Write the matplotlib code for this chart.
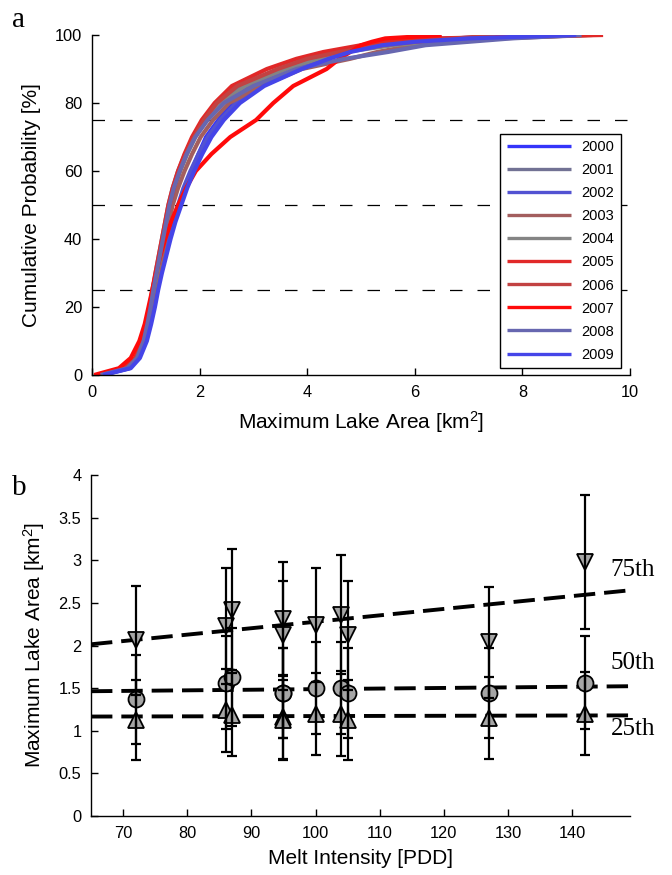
import numpy as np
import matplotlib
matplotlib.use('Agg')
import matplotlib.pyplot as plt
from matplotlib.ticker import FormatStrFormatter

plt.rcParams['font.family'] = ['Liberation Sans', 'DejaVu Sans']
plt.rcParams['mathtext.default'] = 'regular'

# ---- panel a: cumulative distributions of maximum lake area ----
prob = [0, 2, 5, 10, 15, 20, 25, 30, 35, 40, 45, 50, 55, 60, 65, 70, 75,
        80, 85, 90, 93, 95, 97, 98, 99, 100]

years = ['2000', '2001', '2002', '2003', '2004', '2005', '2006', '2007', '2008', '2009']
year_colors = ['#3434fa', '#727294', '#5252d2', '#a35e5e', '#848484',
               '#e12828', '#c24242', '#ff0a0a', '#6767b0', '#4545e8']

area_2000 = [0.20, 0.70, 0.87, 1.00, 1.08, 1.15, 1.21, 1.28, 1.36, 1.44, 1.53, 1.62, 1.72, 1.85,
             1.98, 2.12, 2.35, 2.60, 2.88, 3.60, 4.10, 4.50, 5.10, 5.60, 6.60, 9.10]
area_2001 = [0.15, 0.64, 0.83, 0.95, 1.02, 1.08, 1.13, 1.18, 1.24, 1.30, 1.36, 1.42, 1.50, 1.60,
             1.73, 1.88, 2.08, 2.35, 2.75, 3.50, 4.10, 4.60, 5.40, 6.00, 7.20, 8.80]
area_2002 = [0.18, 0.68, 0.86, 0.99, 1.07, 1.13, 1.19, 1.26, 1.33, 1.41, 1.50, 1.60, 1.70, 1.83,
             1.98, 2.15, 2.38, 2.68, 3.10, 3.80, 4.30, 4.70, 5.30, 6.00, 7.00, 8.60]
area_2003 = [0.16, 0.66, 0.85, 0.97, 1.05, 1.11, 1.17, 1.23, 1.30, 1.36, 1.43, 1.50, 1.60, 1.72,
             1.86, 2.02, 2.25, 2.55, 3.15, 3.90, 4.80, 5.30, 6.00, 6.80, 7.60, 9.30]
area_2004 = [0.17, 0.66, 0.85, 0.97, 1.04, 1.10, 1.15, 1.21, 1.27, 1.33, 1.39, 1.45, 1.53, 1.64,
             1.77, 1.92, 2.12, 2.40, 2.85, 3.60, 4.20, 4.70, 5.60, 6.30, 7.40, 9.20]
area_2005 = [0.12, 0.60, 0.80, 0.93, 1.01, 1.07, 1.12, 1.18, 1.24, 1.30, 1.36, 1.42, 1.50, 1.60,
             1.72, 1.86, 2.04, 2.28, 2.60, 3.25, 3.80, 4.30, 5.00, 5.40, 6.40, 9.50]
area_2006 = [0.14, 0.62, 0.82, 0.95, 1.03, 1.09, 1.14, 1.20, 1.26, 1.32, 1.38, 1.45, 1.53, 1.63,
             1.75, 1.90, 2.08, 2.32, 2.70, 3.45, 4.00, 4.60, 5.40, 6.00, 6.80, 7.50]
area_2007 = [0.04, 0.50, 0.72, 0.88, 0.98, 1.05, 1.12, 1.19, 1.27, 1.36, 1.47, 1.60, 1.75, 1.93,
             2.22, 2.57, 3.05, 3.37, 3.74, 4.36, 4.60, 4.80, 5.00, 5.20, 5.45, 6.50]
area_2008 = [0.16, 0.66, 0.84, 0.96, 1.03, 1.09, 1.14, 1.20, 1.26, 1.32, 1.38, 1.44, 1.52, 1.63,
             1.76, 1.92, 2.15, 2.45, 3.00, 3.80, 4.70, 5.50, 6.20, 7.00, 7.80, 9.10]
area_2009 = [0.21, 0.72, 0.89, 1.02, 1.10, 1.17, 1.23, 1.30, 1.38, 1.46, 1.55, 1.66, 1.77, 1.90,
             2.05, 2.22, 2.45, 2.75, 3.20, 3.90, 4.40, 4.80, 5.40, 6.00, 7.00, 9.00]

year_areas = [area_2000, area_2001, area_2002, area_2003, area_2004,
              area_2005, area_2006, area_2007, area_2008, area_2009]
quartile_lines = [25, 50, 75]

# ---- panel b: quartiles of lake area against melt intensity ----
melt_pdd = [72, 86, 87, 95, 95, 100, 104, 105, 127, 142]
q75 = [2.06, 2.23, 2.42, 2.31, 2.12, 2.24, 2.36, 2.12, 2.04, 2.98]
q75_err = [0.64, 0.68, 0.71, 0.67, 0.64, 0.67, 0.70, 0.64, 0.65, 0.79]
q50 = [1.37, 1.565, 1.63, 1.44, 1.44, 1.50, 1.50, 1.44, 1.44, 1.565]
q50_err = [0.52, 0.55, 0.57, 0.53, 0.53, 0.54, 0.54, 0.53, 0.53, 0.55]
q25 = [1.13, 1.24, 1.19, 1.16, 1.13, 1.20, 1.20, 1.13, 1.145, 1.20]
q25_err = [0.47, 0.49, 0.49, 0.49, 0.47, 0.48, 0.50, 0.47, 0.48, 0.49]
pct_labels = ['75th', '50th', '25th']

W, H = 672, 875
fig = plt.figure(figsize=(W / 100, H / 100), dpi=100)
serif = ['Liberation Serif', 'DejaVu Serif']

def style_axes(ax):
    ax.spines['top'].set_visible(False)
    ax.spines['right'].set_visible(False)
    for s in ['left', 'bottom']:
        ax.spines[s].set_linewidth(1.0)
    ax.tick_params(direction='in', length=5, width=1, labelsize=11.8, pad=7)

# panel a
ax1 = fig.add_axes([92 / W, 1 - 375 / H, 538 / W, 340 / H])
for q in quartile_lines:
    ax1.axhline(q, color='black', lw=0.9, dashes=(10, 12), zorder=1)
for yr, col, area in zip(years, year_colors, year_areas):
    ax1.plot(area, prob, color=col, lw=3.0, label=yr, zorder=2, solid_capstyle='butt')
ax1.set_xlim(0, 10)
ax1.set_ylim(0, 100)
ax1.set_xticks(np.arange(0, 11, 2))
ax1.set_yticks(np.arange(0, 101, 20))
style_axes(ax1)
ax1.set_xlabel('Maximum Lake Area [km$^2$]', fontsize=15, labelpad=7)
ax1.set_ylabel('Cumulative Probability [%]', fontsize=15, labelpad=10)
leg = ax1.legend(loc='lower right', bbox_to_anchor=(0.983, 0.02), borderaxespad=0,
                 fontsize=10.5, handlelength=4.4, labelspacing=0.62, fancybox=False,
                 framealpha=1, edgecolor='black', borderpad=0.45, handletextpad=0.7)
leg.get_frame().set_linewidth(1.0)
for ln in leg.get_lines():
    ln.set_linewidth(2.4)

# panel b
ax2 = fig.add_axes([91 / W, 1 - 816 / H, 539 / W, 341 / H])
xlo, xhi = 65, 149
xx = np.array([xlo, xhi])
for vals, errs, mk in [(q75, q75_err, 'v'), (q50, q50_err, 'o'), (q25, q25_err, '^')]:
    slope, icpt = np.polyfit(melt_pdd, vals, 1)
    ax2.plot(xx, slope * xx + icpt, color='black', lw=2.8, dashes=(5.5, 2.3), zorder=1)
    ax2.plot(melt_pdd, vals, linestyle='none', marker=mk, markersize=11.5,
             markerfacecolor='#a6a6a6', markeredgecolor='black', markeredgewidth=1.3, zorder=2)
    ax2.errorbar(melt_pdd, vals, yerr=errs, fmt='none', ecolor='black', elinewidth=1.6,
                 capsize=3.5, capthick=1.6, zorder=3)
ax2.set_xlim(xlo, xhi)
ax2.set_ylim(0, 4)
ax2.set_xticks(np.arange(70, 141, 10))
ax2.set_yticks(np.arange(0, 4.01, 0.5))
ax2.yaxis.set_major_formatter(FormatStrFormatter('%g'))
style_axes(ax2)
ax2.set_xlabel('Melt Intensity [PDD]', fontsize=15, labelpad=6)
ax2.set_ylabel('Maximum Lake Area [km$^2$]', fontsize=15, labelpad=8)

for lab, yv in zip(pct_labels, [2.89, 1.80, 1.02]):
    ax2.text(146.0, yv, lab, fontsize=18, family=serif, va='center', ha='left', clip_on=False)

fig.text(12 / W, 1 - 20 / H, 'a', fontsize=21, family=serif, va='center', ha='left')
fig.text(12 / W, 1 - 488 / H, 'b', fontsize=21, family=serif, va='center', ha='left')

fig.savefig('out.png', dpi=100)
